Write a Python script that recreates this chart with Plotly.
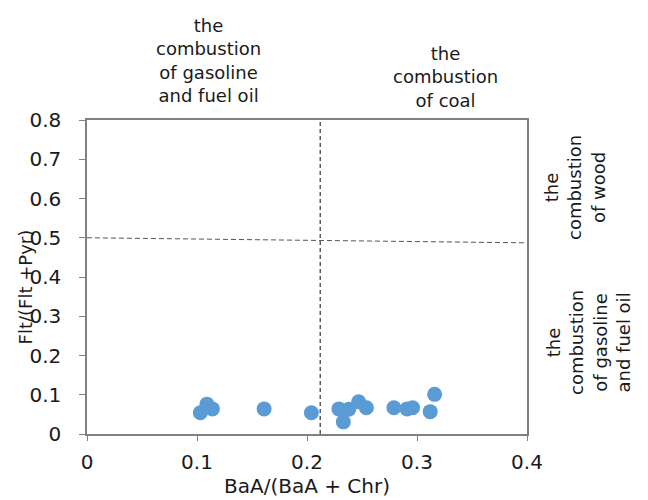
import plotly.graph_objects as go

baa_ratio = [0.103, 0.109, 0.114, 0.161, 0.204, 0.229, 0.238, 0.233, 0.247, 0.254,
             0.279, 0.291, 0.296, 0.312, 0.316]
flt_ratio = [0.054, 0.076, 0.064, 0.064, 0.054, 0.064, 0.063, 0.031, 0.082, 0.067,
             0.067, 0.064, 0.067, 0.057, 0.101]
x_ticks = [0, 0.1, 0.2, 0.3, 0.4]
x_tick_labels = ["0", "0.1", "0.2", "0.3", "0.4"]
y_ticks = [0, 0.1, 0.2, 0.3, 0.4, 0.5, 0.6, 0.7, 0.8]
y_tick_labels = ["0", "0.1", "0.2", "0.3", "0.4", "0.5", "0.6", "0.7", "0.8"]
x_threshold = 0.212
y_threshold = 0.5

FONT = "DejaVu Sans, Arial, sans-serif"
TXT = "#1a1a1a"
AX = "#808080"

fig = go.Figure()
fig.add_trace(go.Scatter(
    x=baa_ratio, y=flt_ratio, mode="markers",
    marker=dict(size=15, color="#5b9bd5", line=dict(width=0)),
    showlegend=False, hoverinfo="x+y"))

fig.add_shape(type="line", x0=x_threshold, x1=x_threshold, y0=0, y1=0.8,
              xref="x", yref="y", line=dict(color="#333", width=1.2, dash="4px,3px"))
fig.add_shape(type="line", x0=0, x1=0.4, y0=y_threshold, y1=0.487,
              xref="x", yref="y", line=dict(color="#555", width=1, dash="5px,3px"))

fig.update_xaxes(range=[0, 0.4], tickvals=x_ticks, ticktext=x_tick_labels,
                 showgrid=False, zeroline=False, showline=True, linecolor=AX,
                 linewidth=1.5, mirror=True, ticks="outside", ticklen=5,
                 tickcolor=AX, ticklabelstandoff=4,
                 tickfont=dict(size=20, color=TXT, family=FONT),
                 title=dict(text="BaA/(BaA + Chr)", font=dict(size=20, color=TXT, family=FONT),
                            standoff=6))
fig.update_yaxes(range=[0, 0.8], tickvals=y_ticks, ticktext=y_tick_labels,
                 showgrid=False, zeroline=False, showline=True, linecolor=AX,
                 linewidth=1.5, mirror=True, ticks="outside", ticklen=6,
                 tickcolor=AX, ticklabelstandoff=14,
                 tickfont=dict(size=20, color=TXT, family=FONT))

ann_font = dict(size=18, color=TXT, family=FONT)
fig.add_annotation(text="Flt/(Flt +Pyr)", xref="paper", yref="paper",
                   x=-0.141, y=0.47, textangle=-90, showarrow=False,
                   xanchor="center", yanchor="middle",
                   font=dict(size=18, color=TXT, family=FONT))
fig.add_annotation(text="the<br>combustion<br>of gasoline<br>and fuel oil",
                   xref="paper", yref="paper", x=(208 - 87) / 440, y=1.188,
                   showarrow=False, font=ann_font, xanchor="center", yanchor="middle")
fig.add_annotation(text="the<br>combustion<br>of coal",
                   xref="paper", yref="paper", x=(445 - 87) / 440, y=1.137,
                   showarrow=False, font=ann_font, xanchor="center", yanchor="middle")
fig.add_annotation(text="the<br>combustion<br>of wood",
                   xref="paper", yref="paper", x=(575 - 87) / 440, y=(434 - 188) / 314,
                   textangle=-90, showarrow=False, font=ann_font,
                   xanchor="center", yanchor="middle")
fig.add_annotation(text="the<br>combustion<br>of gasoline<br>and fuel oil",
                   xref="paper", yref="paper", x=(588 - 87) / 440, y=(434 - 343) / 314,
                   textangle=-90, showarrow=False, font=ann_font,
                   xanchor="center", yanchor="middle")

fig.update_layout(width=648, height=500, plot_bgcolor="white", paper_bgcolor="white",
                  margin=dict(l=79, r=129, t=112, b=74),
                  font=dict(family=FONT, color=TXT))
fig.write_html("out.html")
